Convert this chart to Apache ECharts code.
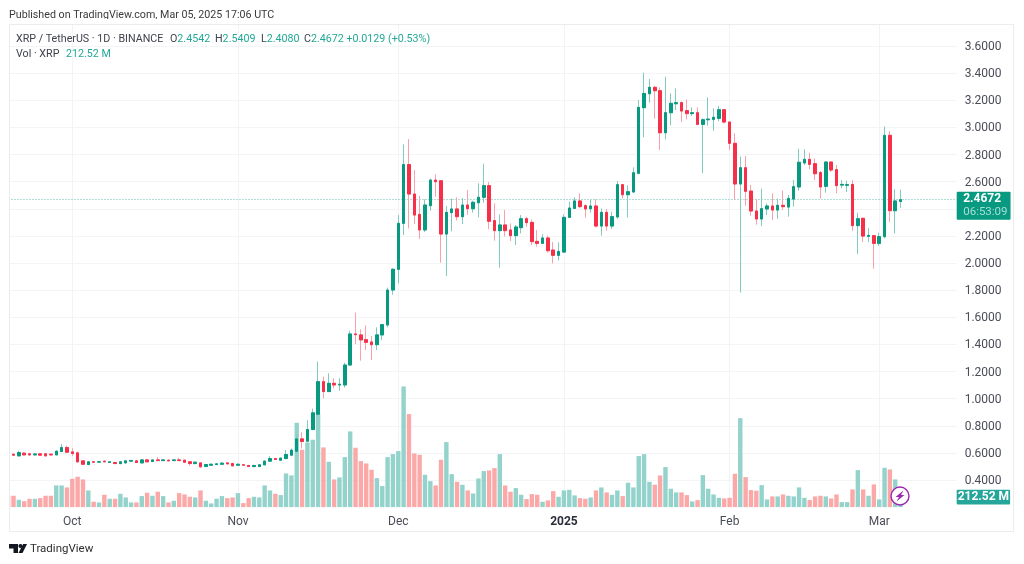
<!DOCTYPE html>
<html><head><meta charset="utf-8">
<style>html,body{margin:0;padding:0;background:#fff}#c{width:1024px;height:564px}</style>
<script src="https://cdn.jsdelivr.net/npm/echarts@6/dist/echarts.min.js"></script>
</head><body><div id="c"></div>
<script>
const startDate = '2024-09-19';
const tickDates = ['2024-10-01','2024-11-01','2024-12-01','2025-01-01','2025-02-01','2025-03-01'];
const tickLabels = ['Oct','Nov','Dec','2025','Feb','Mar'];
const opens = [
.588,.590,.578,.598,.593,.585,.593,.593,.590,.585,.610,.639,.607,.600,.541,.514,.534,.532,.539,.529,
.529,.521,.526,.539,.541,.526,.548,.536,.548,.543,.546,.543,.548,.546,.534,.521,.526,.499,.509,.514,
.516,.526,.521,.509,.512,.507,.499,.499,.512,.539,.558,.546,.558,.583,.612,.703,.686,.772,.885,1.125,
1.052,1.113,1.101,1.101,1.248,1.477,1.470,1.435,1.418,1.398,1.470,1.543,1.801,1.954,2.293,2.726,2.509,2.359,2.244,2.423,
2.612,2.607,2.214,2.372,2.399,2.342,2.428,2.401,2.445,2.485,2.571,2.313,2.239,2.281,2.244,2.202,2.261,2.327,2.300,2.160,
2.145,2.185,2.096,2.057,2.081,2.337,2.403,2.458,2.423,2.401,2.421,2.273,2.374,2.273,2.340,2.578,2.504,2.524,2.662,3.146,
3.249,3.296,3.271,2.961,3.109,3.175,3.183,3.124,3.102,3.109,3.023,3.057,3.060,3.067,3.131,3.040,2.883,2.583,2.703,2.531,
2.384,2.325,2.399,2.421,2.391,2.426,2.413,2.472,2.561,2.738,2.765,2.733,2.667,2.566,2.745,2.689,2.575,2.573,2.580,2.276,
2.330,2.197,2.202,2.145,2.195,2.942,2.386,2.4542];
const closes = [
.586,.583,.602,.585,.585,.592,.583,.578,.585,.612,.639,.605,.595,.534,.516,.534,.531,.534,.534,.534,
.521,.534,.541,.544,.529,.548,.534,.548,.543,.548,.541,.548,.543,.531,.521,.531,.497,.514,.516,.519,
.524,.519,.504,.516,.509,.499,.507,.512,.539,.558,.551,.561,.588,.620,.703,.684,.772,.895,1.125,1.052,
1.113,1.101,1.106,1.248,1.477,1.472,1.433,1.415,1.398,1.470,1.546,1.801,1.954,2.293,2.726,2.509,2.354,2.244,2.428,2.612,
2.600,2.214,2.374,2.399,2.342,2.428,2.401,2.448,2.485,2.571,2.308,2.239,2.281,2.239,2.202,2.266,2.327,2.298,2.158,2.145,
2.185,2.091,2.057,2.086,2.337,2.406,2.458,2.416,2.399,2.421,2.273,2.374,2.273,2.342,2.578,2.504,2.526,2.666,3.148,3.251,
3.296,3.271,2.961,3.109,3.178,3.183,3.121,3.102,3.109,3.023,3.057,3.062,3.075,3.131,3.040,2.883,2.583,2.703,2.529,2.384,
2.325,2.401,2.421,2.391,2.426,2.416,2.477,2.563,2.743,2.765,2.728,2.659,2.561,2.745,2.686,2.571,2.580,2.578,2.276,2.327,
2.199,2.204,2.145,2.195,2.942,2.386,2.458,2.4672];
const lows = [
.584,.581,.575,.582,.581,.582,.581,.575,.583,.583,.607,.602,.578,.526,.512,.509,.526,.529,.531,.526,
.519,.516,.524,.537,.526,.524,.531,.534,.541,.541,.539,.541,.541,.529,.507,.516,.492,.497,.507,.509,
.514,.516,.502,.502,.507,.497,.494,.497,.509,.536,.546,.544,.553,.575,.602,.632,.684,.767,.877,1.002,
1.050,1.076,1.059,1.081,1.243,1.403,1.280,1.359,1.285,1.359,1.433,1.526,1.767,1.850,2.207,2.256,2.288,2.177,2.229,2.386,
2.490,2.003,1.905,2.234,2.313,2.288,2.357,2.372,2.337,2.445,2.249,2.165,1.966,2.195,2.163,2.133,2.219,2.268,2.133,2.121,
2.140,2.077,1.998,2.020,2.077,2.332,2.399,2.403,2.335,2.372,2.263,2.202,2.239,2.251,2.327,2.475,2.335,2.519,2.654,2.927,
3.183,3.065,2.834,2.912,3.016,3.129,3.040,3.060,3.084,3.018,2.662,3.013,2.976,3.047,3.030,2.834,2.465,1.782,2.423,2.349,
2.283,2.273,2.354,2.317,2.327,2.391,2.342,2.416,2.534,2.723,2.691,2.612,2.475,2.519,2.671,2.514,2.551,2.524,2.239,2.067,
2.155,2.155,1.959,2.126,2.182,2.303,2.219,2.4080];
const highs = [
.592,.594,.615,.606,.600,.597,.597,.598,.595,.620,.666,.654,.634,.610,.546,.541,.539,.539,.544,.537,
.534,.539,.544,.546,.546,.553,.556,.553,.570,.553,.551,.553,.563,.551,.539,.536,.531,.516,.521,.524,
.529,.531,.526,.521,.519,.512,.512,.517,.544,.576,.563,.566,.620,.632,.738,.752,.841,.927,1.273,1.162,
1.187,1.150,1.150,1.265,1.501,1.634,1.511,1.541,1.462,1.526,1.551,1.819,1.961,2.354,2.875,2.915,2.686,2.495,2.470,2.622,
2.654,2.610,2.421,2.475,2.485,2.480,2.539,2.460,2.588,2.733,2.598,2.440,2.359,2.391,2.293,2.281,2.354,2.342,2.322,2.244,
2.214,2.202,2.155,2.153,2.359,2.453,2.485,2.514,2.433,2.465,2.470,2.403,2.399,2.379,2.605,2.583,2.573,2.706,3.202,3.404,
3.357,3.306,3.296,3.374,3.251,3.288,3.193,3.207,3.148,3.148,3.067,3.222,3.141,3.158,3.136,3.045,2.957,2.785,2.789,2.576,
2.470,2.549,2.440,2.514,2.475,2.534,2.502,2.612,2.843,2.839,2.814,2.772,2.679,2.750,2.752,2.723,2.612,2.607,2.612,2.371,
2.335,2.258,2.204,2.224,3.006,2.974,2.544,2.5409];
const volumes = [
227,241,156,127,177,177,191,241,241,460,460,418,602,645,588,354,113,99,262,177,
177,283,205,99,99,234,305,241,326,234,99,135,297,269,220,205,354,135,78,177,
234,191,205,297,85,191,220,205,460,354,283,255,715,673,1792,1218,1374,1431,1983,1268,
963,588,630,1062,1608,1261,977,928,793,616,446,1062,1126,1190,2564,1976,1140,1112,687,552,
460,1006,1381,701,538,475,354,290,609,765,779,829,1126,460,326,404,262,170,276,262,
113,142,340,220,354,368,248,191,177,205,354,418,312,262,354,234,517,418,1084,1126,
538,475,673,850,390,312,312,255,120,149,680,390,269,198,184,198,708,1891,637,361,
347,467,163,227,227,269,241,227,418,198,149,227,241,227,184,269,106,106,375,786,
375,241,482,163,836,800,588,212.52];
const lastPrice = 2.4672;
const lastVolume = 212.52;
const blankBars = 10;

const UP='#089981', DOWN='#F7304A', UPW='#7fcbbd', DOWNW='#f9a0ac', UPV='#93d3cb', DOWNV='#faa9a8';
const FONT='Roboto, "Noto Sans", sans-serif';
const TXT='#3f424c', VAL='#22a996', FS=10.7;
const categories=[];
{const d=new Date(startDate+'T00:00:00Z');
 for(let i=0;i<opens.length+blankBars;i++){categories.push(d.toISOString().slice(0,10));d.setUTCDate(d.getUTCDate()+1);}}
const isTick=(i)=>tickDates.includes(categories[i]);
const full=opens.map((o,i)=>[o,closes[i],lows[i],highs[i]]);
const bodies=opens.map((o,i)=>[o,closes[i],Math.min(o,closes[i]),Math.max(o,closes[i])]);
const vols=volumes.map((v,i)=>({value:v,itemStyle:{color:closes[i]>=opens[i]?UPV:DOWNV}}));
const rich={n:{fontFamily:FONT,fontSize:FS,fontWeight:'normal',color:TXT},v:{fontFamily:FONT,fontSize:FS,fontWeight:'normal',color:VAL}};
const legendItem=(text,left,top)=>({text,left,top,padding:0,textStyle:{rich,fontWeight:'normal'}});

const chart=echarts.init(document.getElementById('c'),null,{renderer:'canvas'});
chart.setOption({
 animation:false,backgroundColor:'#fff',
 title:[
  {text:'Published on TradingView.com, Mar 05, 2025 17:06 UTC',left:9,top:10,padding:0,
   textStyle:{fontFamily:FONT,fontSize:10.7,fontWeight:'normal',color:'#3a3a3a'}},
  legendItem('{n|XRP / TetherUS · 1D · BINANCE}',16,34),
  legendItem('{n|O}{v|2.4542}',170,34),
  legendItem('{n|H}{v|2.5409}',215,34),
  legendItem('{n|L}{v|2.4080}',261,34),
  legendItem('{n|C}{v|2.4672 +0.0129 (+0.53%)}',304,34),
  legendItem('{n|Vol · XRP}',16,49),
  legendItem('{v|212.52 M}',66,49),
  {text:'TradingView',left:30,top:543,padding:0,
   textStyle:{fontFamily:FONT,fontSize:11.5,fontWeight:'normal',color:'#2e2e2e'}}
 ],
 grid:{left:5.49,right:67.3,top:19,bottom:56.9,containLabel:false},
 xAxis:{type:'category',data:categories,boundaryGap:true,
  axisLine:{show:false},axisTick:{show:false},
  splitLine:{show:true,alignWithLabel:true,interval:(i)=>isTick(i),lineStyle:{color:'#f2f3f4',width:1}},
  axisLabel:{interval:(i)=>isTick(i),margin:9,fontFamily:FONT,fontSize:12,color:'#4a4d57',
   formatter:(v)=>{const l=tickLabels[tickDates.indexOf(v)];return l==='2025'?'{b|'+l+'}':l;},
   rich:{b:{fontFamily:FONT,fontSize:12,fontWeight:'bold',color:'#2a2e39'}}}},
 yAxis:[
  {type:'value',position:'right',min:0.2,max:3.8,interval:0.2,
   axisLine:{show:false},axisTick:{show:false},
   splitLine:{show:true,showMinLine:false,showMaxLine:false,lineStyle:{color:'#f3f4f5',width:1}},
   axisLabel:{showMinLabel:false,showMaxLabel:false,margin:8,
    formatter:(v)=>'{t|'+v.toFixed(4)+'}',
    rich:{t:{fontFamily:FONT,fontSize:12,color:'#4a4d57',padding:[2,0,0,0]}}}},
  {type:'value',min:0,max:10372,show:false,splitLine:{show:false}}
 ],
 series:[
  {type:'bar',name:'Vol',yAxisIndex:1,data:vols,barWidth:4.4,silent:true,z:1,
   markLine:{silent:true,symbol:'none',animation:false,lineStyle:{width:0,color:'transparent'},
    data:[{yAxis:lastVolume}],
    label:{show:true,position:'end',distance:0,formatter:'{t|212.52 M}',
     backgroundColor:'#26a69a',padding:[1,0,1,0],borderRadius:1,
     rich:{t:{width:53.4,align:'center',lineHeight:12.7,color:'#fff',fontFamily:FONT,fontSize:12,fontWeight:'bold'}}}}},
  {type:'candlestick',name:'Wicks',data:full,barWidth:3,silent:true,z:2,clip:true,
   itemStyle:{color:UPW,color0:DOWNW,borderColor:UPW,borderColor0:DOWNW,borderWidth:1}},
  {type:'candlestick',name:'XRP',data:bodies,barWidth:3,silent:true,z:3,clip:true,
   itemStyle:{color:UP,color0:DOWN,borderColor:UP,borderColor0:DOWN,borderWidth:1},
   markLine:{silent:true,symbol:'none',animation:false,z:2,
    lineStyle:{type:[1,2],color:'#5fbdac',width:1},
    data:[{yAxis:lastPrice}],
    label:{show:true,position:'end',distance:0,offset:[0,6.5],
     formatter:'{a|2.4672}\n{b|06:53:09}',backgroundColor:UP,borderRadius:1,padding:[1,3,1,6.5],
     rich:{a:{fontFamily:FONT,fontSize:12,fontWeight:'bold',color:'#fff',lineHeight:13},
           b:{fontFamily:FONT,fontSize:11.5,color:'#a9ded5',lineHeight:13}}}}}
 ],
 graphic:[
  {type:'rect',z:50,silent:true,shape:{x:0,y:19,width:9,height:500},style:{fill:'#fff'}},
  {type:'rect',z:50,silent:true,shape:{x:0,y:19,width:1024,height:5},style:{fill:'#fff'}},
  {type:'rect',z:51,silent:true,shape:{x:9.5,y:24.5,width:1004,height:507},style:{fill:'none',stroke:'#ececec',lineWidth:1}},
  {type:'circle',z:60,silent:true,shape:{cx:900,cy:496,r:9},style:{fill:'#fff',stroke:'#9c27b0',lineWidth:1.4}},
  {type:'polygon',z:61,silent:true,shape:{points:[[903.5,490.5],[895.5,497],[899,497],[896.5,501.5],[904.5,495],[901,495]]},style:{fill:'#9c27b0'}},
  {type:'polygon',z:61,silent:true,shape:{points:[[9,544],[18,544],[18,553],[13.5,553],[13.5,548.5],[9,548.5]]},style:{fill:'#131722'}},
  {type:'circle',z:61,silent:true,shape:{cx:20.5,cy:546,r:2.1},style:{fill:'#131722'}},
  {type:'polygon',z:61,silent:true,shape:{points:[[23.2,544],[27,544],[22.5,553],[18.5,553]]},style:{fill:'#131722'}}
 ]
});
</script></body></html>
